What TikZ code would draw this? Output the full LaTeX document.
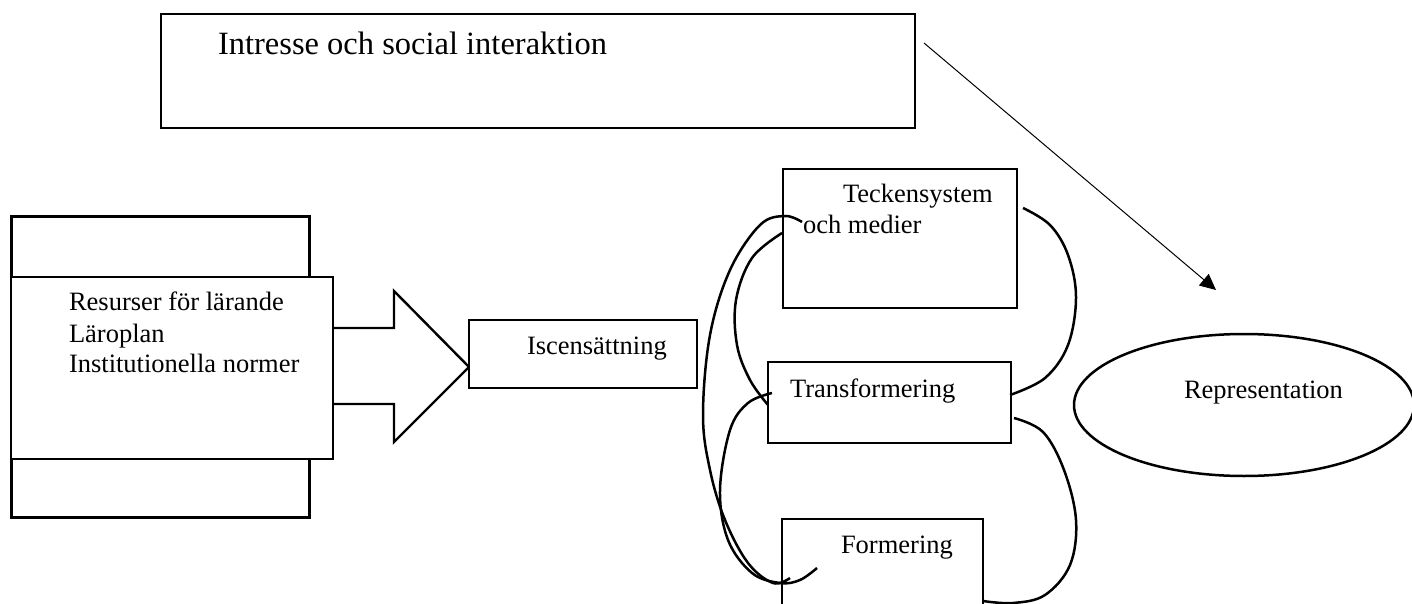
\documentclass[tikz,border=0pt]{standalone}
\usepackage{fontspec}
\setmainfont{Liberation Serif}
\usetikzlibrary{shapes.geometric,arrows.meta}
\begin{document}
\begin{tikzpicture}[x=0.5pt,y=-0.5pt,
  box/.style={draw, line width=0.65pt, fill=white, inner sep=0pt, outer sep=0pt, anchor=north west},
  lbl/.style={font=\fontsize{13.25pt}{15.5pt}\selectfont, inner sep=0pt, outer sep=0pt, anchor=base west},
  bigl/.style={font=\fontsize{16.25pt}{19pt}\selectfont, inner sep=0pt, outer sep=0pt, anchor=base west},
  loopline/.style={line width=1.25pt},
]
\useasboundingbox (0,0) rectangle (1412,604);
\clip (0,0) rectangle (1412,604);

% top box
\node[box, minimum width=377pt, minimum height=57pt] (intr) at (161,14) {};
\node[bigl] (intrT) at (218,55) {Intresse och social interaktion};

% left boxes
\node[box, line width=1.5pt, minimum width=149pt, minimum height=150pt] (outer) at (11,217) {};
\node[box, minimum width=161pt, minimum height=91pt] (res) at (11,277) {};
\node[lbl] (res1) at (69,310) {Resurser för lärande};
\node[lbl] (res2) at (69,342) {Läroplan};
\node[lbl] (res3) at (69,372) {Institutionella normer};

% block arrow
\draw[line width=1.2pt, line join=miter] (333,328) -- (394,328) -- (394,291) -- (469,367) -- (394,442) -- (394,404) -- (333,404);

% Iscensattning
\node[box, minimum width=114pt, minimum height=34pt] (isc) at (469,320) {};
\node[lbl] (iscT) at (527,354) {Iscensättning};

% Teckensystem
\node[box, minimum width=117pt, minimum height=69.5pt] (teck) at (783,169) {};
\node[lbl] (teck1) at (843,203) {Teckensystem};
\node[lbl] (teck2) at (803,234) {och medier};

% Transformering
\node[box, minimum width=121.5pt, minimum height=40.5pt] (trans) at (768,362) {};
\node[lbl] (transT) at (790,397) {Transformering};

% Formering
\node[box, minimum width=100.5pt, minimum height=60.5pt] (form) at (782,519) {};
\node[lbl] (formT) at (841,553) {Formering};

% Representation
\node[draw, ellipse, line width=1.25pt, minimum width=170pt, minimum height=71pt, inner sep=0pt] (repr) at (1244,405) {};
\node[lbl] (reprT) at (1184,398) {Representation};

% arrow
\coordinate (a0) at (924,43);
\coordinate (a1) at (1216,290);
\draw[line width=0.5pt, -{Triangle[length=8pt,width=7.5pt]}] (a0) -- (a1);

% loops
\draw[loopline] plot[smooth, tension=0.6] coordinates {(1023,208) (1050,225) (1068,255) (1076,297) (1068,345) (1045,378) (1010,395)};
\draw[loopline] plot[smooth, tension=0.6] coordinates {(1014,418) (1043,432) (1064,470) (1076,520) (1070,565) (1045,595) (1013,603) (983,601)};
\draw[loopline] plot[smooth, tension=0.6] coordinates {(782,233) (752,258) (736,300) (737,345) (750,380) (768,405)};
\draw[loopline] plot[smooth, tension=0.6] coordinates {(802,222) (785,216) (760,225) (730,270) (710,335) (703,415) (710,470) (725,520) (748,563) (773,583) (790,578)};
\draw[loopline] plot[smooth, tension=0.6] coordinates {(772,393) (748,403) (730,430) (720,490) (728,540) (752,573) (780,583) (800,580) (817,568)};
\end{tikzpicture}
\end{document}
